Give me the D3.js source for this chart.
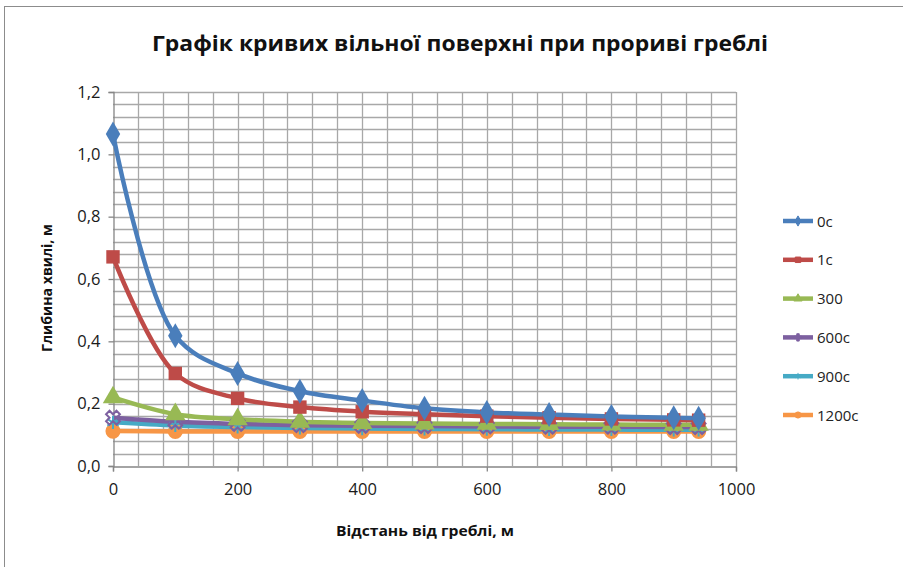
<html>
<head>
    <meta charset="utf-8">
    <style>
        body { margin: 0; background: #fff; }
        text { font-family: "Open Sans", "Noto Sans", sans-serif; }
    </style>
</head>
<body>
    <script src="https://cdn.jsdelivr.net/npm/d3@7/dist/d3.min.js"></script>
    <script>
        // дані
        var distances = [0, 100, 200, 300, 400, 500, 600, 700, 800, 900, 940];
        var seriesNames = ["0c", "1c", "300", "600c", "900c", "1200c"];
        var depth0 = [1.065, 0.418, 0.297, 0.240, 0.210, 0.185, 0.172, 0.165, 0.159, 0.155, 0.153];
        var depth1 = [0.671, 0.297, 0.217, 0.189, 0.174, 0.166, 0.160, 0.155, 0.151, 0.148, 0.147];
        var depth300 = [0.220, 0.166, 0.150, 0.142, 0.138, 0.136, 0.135, 0.134, 0.133, 0.132, 0.132];
        var depth600 = [0.155, 0.142, 0.135, 0.131, 0.129, 0.128, 0.127, 0.126, 0.126, 0.125, 0.125];
        var depth900 = [0.140, 0.130, 0.125, 0.122, 0.120, 0.119, 0.118, 0.117, 0.117, 0.116, 0.116];
        var depth1200 = [0.112, 0.111, 0.111, 0.111, 0.111, 0.111, 0.111, 0.111, 0.111, 0.111, 0.111];
        var yTicks = [0, 0.2, 0.4, 0.6, 0.8, 1.0, 1.2];
        var xTicks = [0, 200, 400, 600, 800, 1000];

        var allSeries = [depth0, depth1, depth300, depth600, depth900, depth1200];
        var colors = ["#4a7ebb", "#be4b48", "#98b954", "#7d60a0", "#46aac5", "#f79646"];
        var markers = [d3.symbolDiamond, d3.symbolSquare, d3.symbolTriangle, d3.symbolCross, d3.symbolAsterisk, d3.symbolCircle];

        var width = 903, height = 567;
        var svg = d3.select("body").append("svg")
            .attr("width", width)
            .attr("height", height);

        // рамка області діаграми
        svg.append("rect")
            .attr("x", 4.5).attr("y", 6.5)
            .attr("width", 920).attr("height", 600)
            .attr("fill", "#fff")
            .attr("stroke", "#8c8c8c");

        var x = d3.scaleLinear().domain([0, 1000]).range([113, 736]);
        var y = d3.scaleLinear().domain([0, 1.2]).range([466, 92]);

        // сітка
        var grid = svg.append("g");
        grid.selectAll(".vg")
            .data(d3.range(40, 1001, 40))
            .enter().append("line")
            .attr("x1", d => Math.round(x(d)) + 0.5).attr("x2", d => Math.round(x(d)) + 0.5)
            .attr("y1", y(0)).attr("y2", y(1.2))
            .attr("stroke", "#a8a8a8")
            .attr("stroke-width", 1.3);
        grid.selectAll(".hg")
            .data(d3.range(1, 31).map(i => i * 0.04))
            .enter().append("line")
            .attr("x1", x(0)).attr("x2", x(1000))
            .attr("y1", d => Math.round(y(d)) + 0.5).attr("y2", d => Math.round(y(d)) + 0.5)
            .attr("stroke", "#a8a8a8")
            .attr("stroke-width", 1.3);

        // осі
        svg.append("g")
            .attr("transform", "translate(" + (x(0) + 0.5) + ",0)")
            .call(d3.axisLeft(y).tickValues(yTicks).tickSize(5).tickPadding(8)
                .tickFormat(d => d3.format(".1f")(d).replace(".", ",")));
        svg.append("g")
            .attr("transform", "translate(0," + (y(0) + 0.5) + ")")
            .call(d3.axisBottom(x).tickValues(xTicks).tickSize(5).tickPadding(12)
                .tickFormat(d3.format("d")));
        svg.selectAll(".domain, .tick line").attr("stroke", "#868686").attr("stroke-width", 1.3);
        svg.selectAll(".tick text")
            .attr("font-size", 16.5)
            .attr("fill", "#1a1a1a");

        // лінії серій
        var line = d3.line()
            .x((d, i) => x(distances[i]))
            .y(d => y(d))
            .curve(d3.curveCatmullRom);

        var order = [5, 4, 3, 2, 1, 0];
        order.forEach(function (s) {
            svg.append("path")
                .datum(allSeries[s])
                .attr("fill", "none")
                .attr("stroke", colors[s])
                .attr("stroke-width", 4.5)
                .attr("d", line);
        });
        order.forEach(function (s) {
            var open = s === 3 || s === 4;
            var sym = d3.symbol().type(markers[s]).size(open ? 120 : 180);
            svg.append("g").selectAll("path")
                .data(allSeries[s])
                .enter().append("path")
                .attr("transform", (d, i) => "translate(" + x(distances[i]) + "," + y(d) + ")" + (s === 3 ? " rotate(45)" : ""))
                .attr("d", sym)
                .attr("fill", open ? "none" : colors[s])
                .attr("stroke", colors[s])
                .attr("stroke-width", open ? 2 : 0);
        });

        // заголовки
        svg.append("text")
            .attr("x", 460).attr("y", 51)
            .attr("text-anchor", "middle")
            .attr("font-size", 21)
            .attr("font-weight", "bold")
            .attr("textLength", 616)
            .attr("lengthAdjust", "spacingAndGlyphs")
            .attr("fill", "#111")
            .text("Графік кривих вільної поверхні при прориві греблі");

        svg.append("text")
            .attr("x", 425).attr("y", 536)
            .attr("text-anchor", "middle")
            .attr("font-size", 14)
            .attr("font-weight", "bold")
            .attr("textLength", 178)
            .attr("lengthAdjust", "spacingAndGlyphs")
            .attr("fill", "#111")
            .text("Відстань від греблі, м");

        svg.append("text")
            .attr("transform", "translate(52,288) rotate(-90)")
            .attr("text-anchor", "middle")
            .attr("font-size", 14)
            .attr("font-weight", "bold")
            .attr("textLength", 128)
            .attr("lengthAdjust", "spacingAndGlyphs")
            .attr("fill", "#111")
            .text("Глибина хвилі, м");

        // легенда
        var legend = svg.append("g");
        seriesNames.forEach(function (name, s) {
            var ly = 221 + s * 38.8;
            legend.append("line")
                .attr("x1", 783).attr("x2", 813)
                .attr("y1", ly).attr("y2", ly)
                .attr("stroke", colors[s])
                .attr("stroke-width", 4.5);
            legend.append("path")
                .attr("transform", "translate(798," + ly + ")")
                .attr("d", d3.symbol().type(markers[s]).size(30))
                .attr("fill", colors[s])
                .attr("stroke", colors[s]);
            legend.append("text")
                .attr("x", 817).attr("y", ly + 5.5)
                .attr("font-size", 15)
                .attr("fill", "#222")
                .text(name);
        });
    </script>
</body>
</html>
